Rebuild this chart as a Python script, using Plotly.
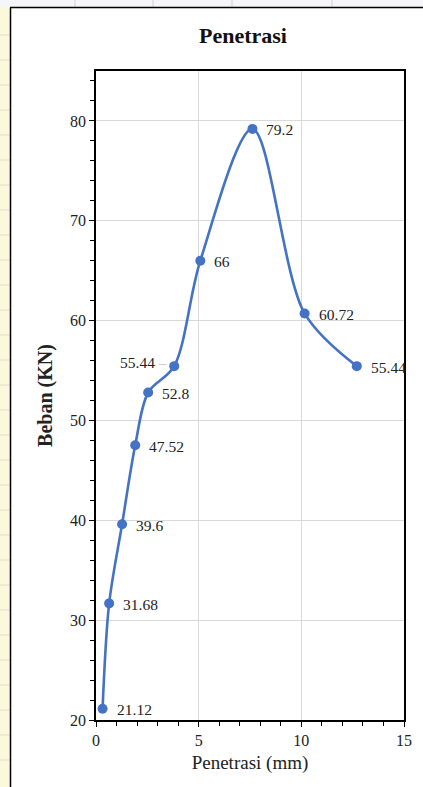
import plotly.graph_objects as go

penetrasi = [0.32, 0.64, 1.27, 1.91, 2.54, 3.81, 5.08, 7.62, 10.16, 12.7]
beban = [21.12, 31.68, 39.6, 47.52, 52.8, 55.44, 66, 79.2, 60.72, 55.44]
labels = ["21.12", "31.68", "39.6", "47.52", "52.8", "55.44", "66", "79.2", "60.72", "55.44"]
label_side = ["right", "right", "right", "right", "right", "left", "right", "right", "right", "right"]

BLUE = "#4472C4"
FONT = "Liberation Serif"

fig = go.Figure()
fig.add_trace(go.Scatter(
    x=penetrasi, y=beban, mode="lines+markers",
    line=dict(color=BLUE, width=2.6, shape="spline", smoothing=0.9),
    marker=dict(color=BLUE, size=10),
    showlegend=False, hoverinfo="skip",
))

for xv, yv, t, side in zip(penetrasi, beban, labels, label_side):
    if side == "right":
        fig.add_annotation(x=xv, y=yv, text=t, showarrow=False, xanchor="left",
                           yanchor="middle", xshift=12, yshift=-1,
                           font=dict(family=FONT, size=15.5, color="#222"))
    else:
        fig.add_annotation(x=xv, y=yv, text=t + " <span style='color:#aaa'>\u2012</span>", showarrow=False,
                           xanchor="right", yanchor="middle", xshift=-5, yshift=4,
                           font=dict(family=FONT, size=15.5, color="#222"))

# chart-area frame and spreadsheet background strips
px = lambda p: (p - 96) / 308.0
py = lambda p: (720 - p) / 649.0
shapes = [
    dict(type="rect", xref="paper", yref="paper", x0=px(-5), x1=px(10), y0=py(800), y1=py(7),
         fillcolor="#FCF8DC", line=dict(width=0), layer="below"),
    dict(type="rect", xref="paper", yref="paper", x0=px(-5), x1=px(430), y0=py(7), y1=py(-5),
         fillcolor="#F6F5FA", line=dict(width=0), layer="below"),
]
for yy in [35, 60, 85, 110, 135, 160, 185, 210, 235, 260, 285, 310, 335, 360, 385, 410, 435,
           460, 485, 510, 535, 560, 585, 610, 635, 660, 685, 710, 735, 760]:
    shapes.append(dict(type="line", xref="paper", yref="paper", x0=px(0), x1=px(10), y0=py(yy), y1=py(yy),
                       line=dict(color="#E0DDCB", width=1), layer="below"))
for xx in [75, 153, 232, 332]:
    shapes.append(dict(type="line", xref="paper", yref="paper", x0=px(xx), x1=px(xx), y0=py(-5), y1=py(7),
                       line=dict(color="#D0D0D0", width=1), layer="below"))
shapes.append(dict(type="line", xref="paper", yref="paper", x0=px(10.5), x1=px(10.5), y0=py(7.5), y1=py(800),
                   line=dict(color="black", width=1.5)))
shapes.append(dict(type="line", xref="paper", yref="paper", x0=px(10), x1=px(430), y0=py(7.5), y1=py(7.5),
                   line=dict(color="black", width=1.5)))

fig.update_layout(
    width=423, height=787,
    margin=dict(l=96, r=19, t=71, b=67),
    paper_bgcolor="white", plot_bgcolor="white",
    font=dict(family=FONT, color="#222"),
    title=dict(text="<b>Penetrasi</b>", x=(243 - 96) / 308, xref="paper", xanchor="center",
               y=1 - 35 / 787, yref="container", yanchor="middle",
               font=dict(family=FONT, size=22, color="#111")),
    shapes=shapes,
)
fig.update_xaxes(
    range=[0, 15], tick0=0, dtick=5, showgrid=True, gridcolor="#D9D9D9", gridwidth=1,
    zeroline=False, showline=True, linecolor="black", linewidth=1.5, mirror=True,
    ticks="outside", ticklen=5, tickcolor="black",
    minor=dict(dtick=1, ticks="outside", ticklen=4, tickcolor="black", showgrid=False),
    tickfont=dict(family=FONT, size=16, color="#222"),
    title=dict(text="Penetrasi (mm)", font=dict(family=FONT, size=19, color="#222"), standoff=8),
)
fig.update_yaxes(
    range=[20, 85], tick0=20, dtick=10, showgrid=True, gridcolor="#D9D9D9", gridwidth=1,
    zeroline=False, showline=True, linecolor="black", linewidth=1.5, mirror=True,
    ticks="outside", ticklen=5, tickcolor="black",
    minor=dict(dtick=2, ticks="outside", ticklen=4, tickcolor="black", showgrid=False),
    tickfont=dict(family=FONT, size=16, color="#222"),
    title=dict(text="<b>Beban (KN)</b>", font=dict(family=FONT, size=20, color="#222"), standoff=12),
)

fig.write_html("out.html", config={"displayModeBar": False},
               post_script="document.body.style.margin='0';document.body.style.overflow='hidden';")
